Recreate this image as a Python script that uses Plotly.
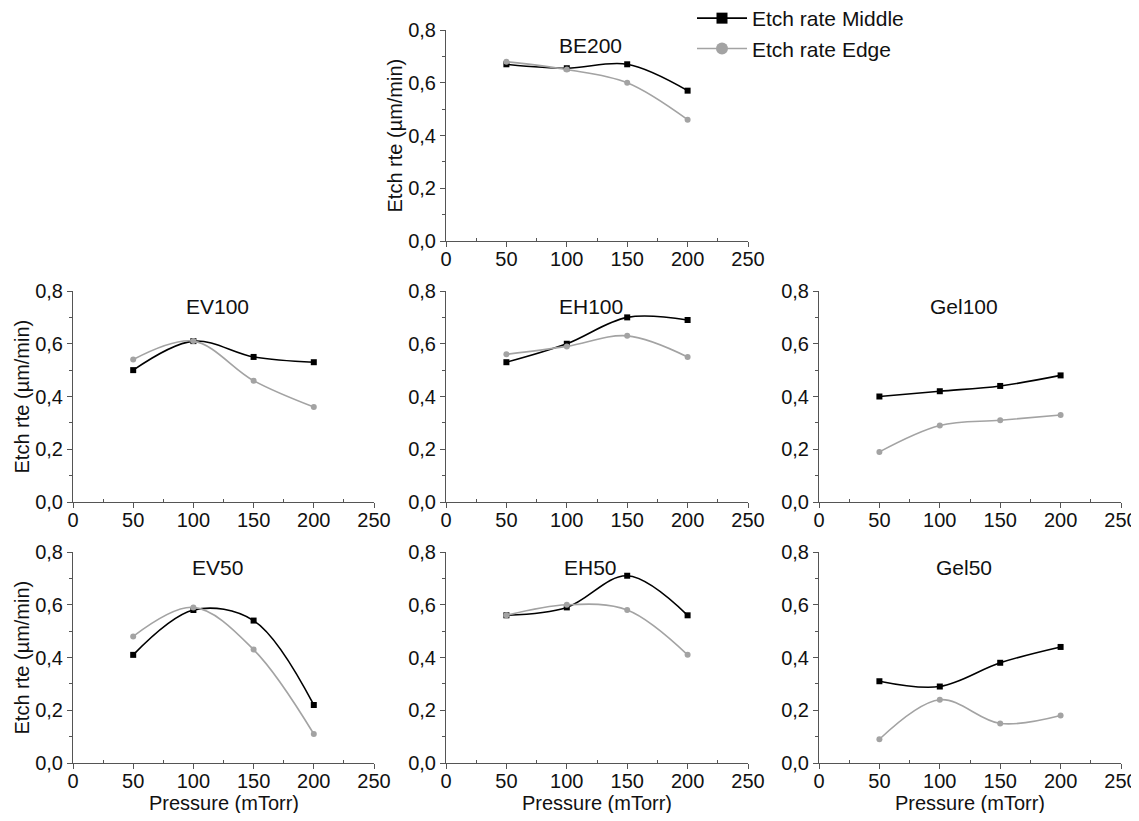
import plotly.graph_objects as go

pressure = [50, 100, 150, 200]
panel_names = ["BE200", "EV100", "EH100", "Gel100", "EV50", "EH50", "Gel50"]
middle_BE200 = [0.67, 0.655, 0.67, 0.57]
edge_BE200 = [0.68, 0.65, 0.60, 0.46]
middle_EV100 = [0.50, 0.61, 0.55, 0.53]
edge_EV100 = [0.54, 0.61, 0.46, 0.36]
middle_EH100 = [0.53, 0.60, 0.70, 0.69]
edge_EH100 = [0.56, 0.59, 0.63, 0.55]
middle_Gel100 = [0.40, 0.42, 0.44, 0.48]
edge_Gel100 = [0.19, 0.29, 0.31, 0.33]
middle_EV50 = [0.41, 0.58, 0.54, 0.22]
edge_EV50 = [0.48, 0.59, 0.43, 0.11]
middle_EH50 = [0.56, 0.59, 0.71, 0.56]
edge_EH50 = [0.56, 0.60, 0.58, 0.41]
middle_Gel50 = [0.31, 0.29, 0.38, 0.44]
edge_Gel50 = [0.09, 0.24, 0.15, 0.18]

middles = [middle_BE200, middle_EV100, middle_EH100, middle_Gel100, middle_EV50, middle_EH50, middle_Gel50]
edges = [edge_BE200, edge_EV100, edge_EH100, edge_Gel100, edge_EV50, edge_EH50, edge_Gel50]

PAGE = 8  # default body margin of the html page
W, H = 1139 - PAGE, 821 - 2 * PAGE
cols = {"L": (73, 374), "M": (446, 748), "R": (819, 1121)}   # screen px
rows = {"T": (30, 241), "C": (291, 502), "B": (552, 763)}    # screen px
layout_pos = [("M", "T"), ("L", "C"), ("M", "C"), ("R", "C"), ("L", "B"), ("M", "B"), ("R", "B")]


def px(xs):
    return (xs - PAGE) / W


def py(ys):
    return 1 - (ys - PAGE) / H


BLACK = "#000000"
GREY = "#a3a3a3"
AXC = "#555555"
TXT = "#111111"
FONT = "Liberation Sans, Arial, sans-serif"

fig = go.Figure()
layout = dict(
    width=W, height=H,
    margin=dict(l=0, r=0, t=0, b=0, autoexpand=False),
    paper_bgcolor="white", plot_bgcolor="white",
    separators=",.",
    font=dict(family=FONT, size=20, color=TXT),
    showlegend=True,
    legend=dict(x=px(692), y=py(-2), xanchor="left", yanchor="top",
                bgcolor="rgba(0,0,0,0)", font=dict(size=21, color=TXT),
                tracegroupgap=0, itemwidth=50),
)
annotations = []
for i, (name, (c, r)) in enumerate(zip(panel_names, layout_pos)):
    k = i + 1
    xs = "x" if k == 1 else f"x{k}"
    ys = "y" if k == 1 else f"y{k}"
    xa = "xaxis" if k == 1 else f"xaxis{k}"
    ya = "yaxis" if k == 1 else f"yaxis{k}"
    x0, x1 = cols[c]
    y0, y1 = rows[r]
    axis_common = dict(showline=True, linecolor=AXC, linewidth=1, showgrid=False, zeroline=False,
                       ticks="outside", ticklen=5, tickcolor=AXC, tickwidth=1, automargin=False,
                       tickfont=dict(size=20, color=TXT))
    layout[xa] = dict(domain=[px(x0), px(x1)], range=[0, 250], anchor=ys,
                      tickvals=[0, 50, 100, 150, 200, 250], ticklabelstandoff=-5,
                      minor=dict(tickvals=[25, 75, 125, 175, 225], ticks="inside", ticklen=3, tickcolor=AXC),
                      **axis_common)
    layout[ya] = dict(domain=[py(y1), py(y0)], range=[0, 0.8], anchor=xs,
                      tickvals=[0, 0.2, 0.4, 0.6, 0.8], tickformat=".1f",
                      minor=dict(tickvals=[0.1, 0.3, 0.5, 0.7], ticks="outside", ticklen=3, tickcolor=AXC),
                      **axis_common)
    if name in ("BE200", "EV100", "EV50"):
        annotations.append(dict(x=px(x0 - 52), y=py((y0 + y1) / 2), xref="paper", yref="paper",
                                text="Etch rte (µm/min)", textangle=-90, showarrow=False,
                                font=dict(size=20, color=TXT), xanchor="center", yanchor="middle"))
    if r == "B":
        annotations.append(dict(x=px((x0 + x1) / 2), y=py(803), xref="paper", yref="paper",
                                text="Pressure (mTorr)", showarrow=False,
                                font=dict(size=20, color=TXT), xanchor="center", yanchor="middle"))
    annotations.append(dict(x=120, y=0.74, xref=xs, yref=ys, text=name, showarrow=False,
                            font=dict(size=21, color=TXT), xanchor="center", yanchor="middle"))
    fig.add_trace(go.Scatter(x=pressure, y=middles[i], xaxis=xs, yaxis=ys, mode="lines+markers",
                             line=dict(color=BLACK, width=1.6, shape="spline", smoothing=1),
                             marker=dict(symbol="square", size=6, color=BLACK), showlegend=False))
    fig.add_trace(go.Scatter(x=pressure, y=edges[i], xaxis=xs, yaxis=ys, mode="lines+markers",
                             line=dict(color=GREY, width=1.6, shape="spline", smoothing=1),
                             marker=dict(symbol="circle", size=6, color=GREY), showlegend=False))

fig.add_trace(go.Scatter(x=[None], y=[None], mode="lines+markers", name="Etch rate Middle",
                         line=dict(color=BLACK, width=1.6), marker=dict(symbol="square", size=11, color=BLACK)))
fig.add_trace(go.Scatter(x=[None], y=[None], mode="lines+markers", name="Etch rate Edge",
                         line=dict(color=GREY, width=1.6), marker=dict(symbol="circle", size=12, color=GREY)))

layout["annotations"] = annotations
fig.update_layout(**layout)
fig.write_html("out.html")
